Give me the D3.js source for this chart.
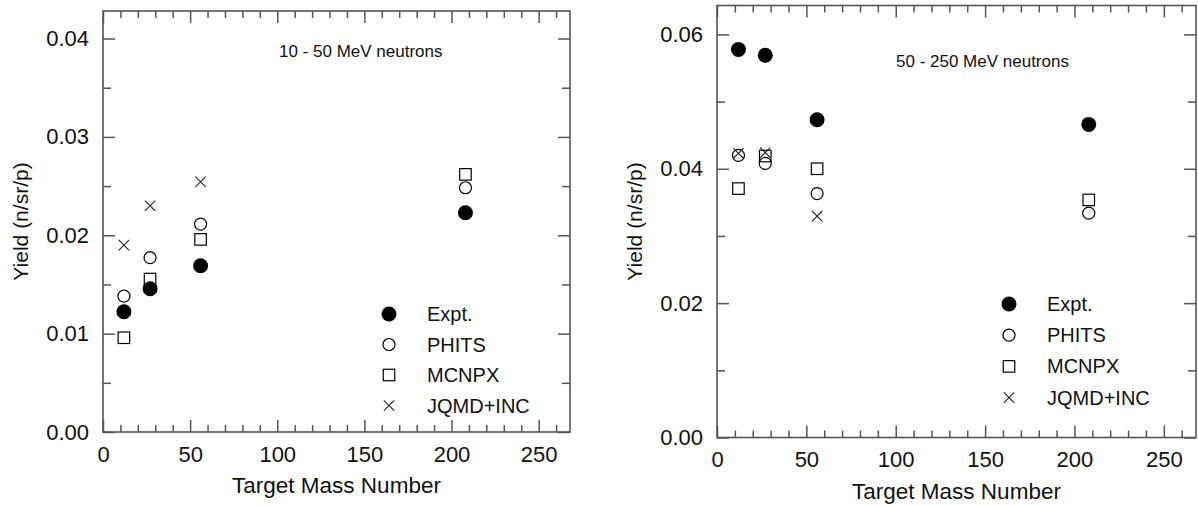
<!DOCTYPE html>
<html>
<head>
<meta charset="utf-8">
<script src="https://cdn.jsdelivr.net/npm/d3@7"></script>
<style>
  html, body { margin: 0; padding: 0; background: #fff; }
  svg { display: block; }
  text { font-family: "Liberation Sans", Arial, sans-serif; fill: #111; }
</style>
</head>
<body>
<svg id="chart" width="1198" height="506"></svg>
<script>
// Target nuclei (mass numbers): C, Al, Fe, Pb
const targetMass = [12, 27, 56, 208];

// 10 - 50 MeV neutron yields (n/sr/p)
const lowExpt  = [0.01223, 0.01457, 0.0169, 0.02229];
const lowPhits = [0.01382, 0.01772, 0.02114, 0.02483];
const lowMcnpx = [0.00958, 0.01555, 0.01958, 0.02619];
const lowJqmd  = [0.0190, 0.0230, 0.02544, null];

// 50 - 250 MeV neutron yields (n/sr/p)
const highExpt  = [0.05775, 0.0569, 0.0473, 0.0466];
const highPhits = [0.0420, 0.0408, 0.0363, 0.03339];
const highMcnpx = [0.03705, 0.0419, 0.0400, 0.03536];
const highJqmd  = [0.0423, 0.0424, 0.03294, null];

const seriesNames = ["Expt.", "PHITS", "MCNPX", "JQMD+INC"];
const xMajorTicks = [0, 50, 100, 150, 200, 250];
const xMinorTicks = d3.range(10, 270, 10).filter(v => v % 50 !== 0);
const lowYMajor = [0, 0.01, 0.02, 0.03, 0.04];
const lowYMinor = [0.005, 0.015, 0.025, 0.035];
const highYMajor = [0, 0.02, 0.04, 0.06];
const highYMinor = [0.01, 0.03, 0.05];

const svg = d3.select("#chart");
const frameColor = "#555";

// marker drawing by series index
function drawMarker(g, kind, cx, cy) {
  if (kind === 0) {
    g.append("circle").attr("cx", cx).attr("cy", cy).attr("r", 7.5).attr("fill", "#000");
  } else if (kind === 1) {
    g.append("circle").attr("cx", cx).attr("cy", cy).attr("r", 6)
      .attr("fill", "none").attr("stroke", "#000").attr("stroke-width", 1.2);
  } else if (kind === 2) {
    const s = 11.5;
    g.append("rect").attr("x", cx - s / 2).attr("y", cy - s / 2).attr("width", s).attr("height", s)
      .attr("fill", "none").attr("stroke", "#000").attr("stroke-width", 1.2);
  } else {
    const h = 5.2;
    g.append("path")
      .attr("d", `M${cx - h},${cy - h}L${cx + h},${cy + h}M${cx - h},${cy + h}L${cx + h},${cy - h}`)
      .attr("fill", "none").attr("stroke", "#222").attr("stroke-width", 1.1);
  }
}

function panel(cfg) {
  const { left, right, top, bottom, yMax, yMajor, yMinor, series, title, titleX, titleY, legendX, legendY, legendStep } = cfg;
  const x = d3.scaleLinear().domain([0, 268]).range([left, right]);
  const y = d3.scaleLinear().domain([0, yMax]).range([bottom, top]);
  const g = svg.append("g");

  // axes with inward ticks
  function styleAxis(sel) {
    sel.select(".domain").remove();
    sel.selectAll(".tick line").attr("stroke", frameColor).attr("stroke-width", 1.5);
    sel.selectAll(".tick text").style("font-size", "22px").attr("fill", "#111");
  }
  g.append("g").attr("transform", `translate(0,${bottom})`)
    .call(d3.axisBottom(x).tickValues(xMajorTicks).tickSize(-12).tickPadding(14).tickFormat(d3.format("d")))
    .call(styleAxis);
  g.append("g").attr("transform", `translate(0,${bottom})`)
    .call(d3.axisBottom(x).tickValues(xMinorTicks).tickSize(-7).tickFormat(""))
    .call(styleAxis);
  g.append("g").attr("transform", `translate(0,${top})`)
    .call(d3.axisTop(x).tickValues(xMajorTicks).tickSize(-12).tickFormat(""))
    .call(styleAxis);
  g.append("g").attr("transform", `translate(0,${top})`)
    .call(d3.axisTop(x).tickValues(xMinorTicks).tickSize(-7).tickFormat(""))
    .call(styleAxis);
  g.append("g").attr("transform", `translate(${left},0)`)
    .call(d3.axisLeft(y).tickValues(yMajor).tickSize(-12).tickPadding(14).tickFormat(d3.format(".2f")))
    .call(styleAxis);
  g.append("g").attr("transform", `translate(${left},0)`)
    .call(d3.axisLeft(y).tickValues(yMinor).tickSize(-8).tickFormat(""))
    .call(styleAxis);
  g.append("g").attr("transform", `translate(${right},0)`)
    .call(d3.axisRight(y).tickValues(yMajor).tickSize(-12).tickFormat(""))
    .call(styleAxis);
  g.append("g").attr("transform", `translate(${right},0)`)
    .call(d3.axisRight(y).tickValues(yMinor).tickSize(-8).tickFormat(""))
    .call(styleAxis);

  // plot frame
  g.append("rect").attr("x", left).attr("y", top).attr("width", right - left).attr("height", bottom - top)
    .attr("fill", "none").attr("stroke", frameColor).attr("stroke-width", 1.6);

  // axis titles
  g.append("text").attr("x", (left + right) / 2).attr("y", bottom + 61)
    .attr("text-anchor", "middle").style("font-size", "22.5px").text("Target Mass Number");
  g.append("text")
    .attr("transform", `translate(${left - 75},${(top + bottom) / 2}) rotate(-90)`)
    .attr("text-anchor", "middle").style("font-size", "21px").text("Yield (n/sr/p)");

  // energy range label
  g.append("text").attr("x", titleX).attr("y", titleY).style("font-size", "17px").text(title);

  // data markers
  const marks = g.append("g");
  series.forEach((vals, k) => {
    vals.forEach((v, i) => {
      if (v == null) return;
      drawMarker(marks, k, x(targetMass[i]), y(v));
    });
  });

  // legend
  const leg = g.append("g");
  seriesNames.forEach((name, k) => {
    const ly = legendY + k * legendStep;
    drawMarker(leg, k, legendX, ly);
    leg.append("text").attr("x", legendX + 38).attr("y", ly + 7)
      .style("font-size", "20px").text(name);
  });
}

panel({
  left: 103, right: 570, top: 11, bottom: 432, yMax: 0.0428,
  yMajor: lowYMajor, yMinor: lowYMinor,
  series: [lowExpt, lowPhits, lowMcnpx, lowJqmd],
  title: "10 - 50 MeV neutrons", titleX: 279, titleY: 57,
  legendX: 389, legendY: 314, legendStep: 30.5
});

panel({
  left: 717, right: 1196, top: 5.5, bottom: 437.5, yMax: 0.0643,
  yMajor: highYMajor, yMinor: highYMinor,
  series: [highExpt, highPhits, highMcnpx, highJqmd],
  title: "50 - 250 MeV neutrons", titleX: 896, titleY: 66.5,
  legendX: 1009, legendY: 304, legendStep: 31.2
});
</script>
</body>
</html>
